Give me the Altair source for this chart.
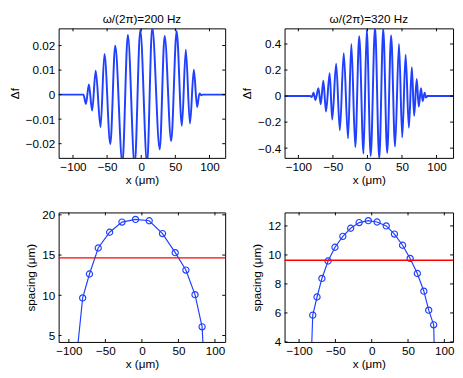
import altair as alt
import pandas as pd

FONT = "Liberation Sans"
BLUE = "#2040ff"

# ---------------- data ----------------
# Top-left: omega/(2pi)=200 Hz, extrema of the oscillation
tl_x = [-121, -84.7, -81.0, -76.7, -71.9, -66.7, -59.6, -53.9, -45.3, -38.1,
        -27.6, -19.6, -9.6, -1.4, 8.6, 16.1, 27.1, 34.3, 43.9, 51.9,
        59.6, 65.3, 71.4, 77.1, 81.9, 85.3, 87.9, 89.5, 123]
tl_y = [0, 0, -0.0038, 0.0041, -0.0065, 0.0097, -0.0133, 0.0166, -0.0202, 0.0199,
        -0.028, 0.0243, -0.029, 0.0263, -0.028, 0.0275, -0.0223, 0.0239, -0.0189, 0.0259,
        -0.0127, 0.0183, -0.0118, 0.0101, -0.0051, 0.0005, -0.0003, 0, 0]

# Top-right: omega/(2pi)=320 Hz
tr_x = [-120, -82.9, -80.7, -78.1, -75.3, -71.0, -67.6, -63.9, -60.0, -54.7,
        -51.0, -45.3, -40.0, -34.3, -28.1, -23.3, -17.6, -11.9, -5.7, -1.0,
        4.7, 11.0, 17.1, 22.9, 28.6, 34.3, 40.0, 45.7, 50.4, 55.3,
        60.0, 64.3, 67.6, 71.4, 74.3, 77.6, 80.0, 82.9, 84.7, 87.1, 124]
tr_y = [0, 0, -0.008, 0.026, -0.03, 0.061, -0.063, 0.118, -0.118, 0.175,
        -0.18, 0.248, -0.263, 0.33, -0.325, 0.40, -0.392, 0.459, -0.442, 0.509,
        -0.46, 0.53, -0.48, 0.516, -0.437, 0.466, -0.387, 0.40, -0.317, 0.317,
        -0.243, 0.222, -0.151, 0.131, -0.081, 0.061, -0.039, 0.026, -0.011, 0, 0]

# Bottom-left: spacing (circles) + line end points
bl_x = [-81.1, -71.8, -59.8, -44.2, -27.3, -8.7, 10.0, 28.2, 45.6, 60.2, 72.7, 82.4]
bl_y = [9.67, 12.65, 15.88, 17.84, 19.1, 19.43, 19.27, 17.67, 15.3, 13.14, 10.08, 6.08]
bl_end_x = [-89.8, 84.8]
bl_end_y = [2, 2]
bl_level = 14.65

# Bottom-right
br_x = [-81.2, -75.3, -68.6, -60.1, -50.6, -39.8, -29.0, -17.3, -4.7, 7.4,
        20.0, 31.3, 42.5, 52.9, 62.8, 71.8, 78.5, 85.3]
br_y = [5.85, 7.10, 8.38, 9.58, 10.53, 11.28, 11.84, 12.23, 12.36, 12.27,
        12.0, 11.44, 10.67, 9.76, 8.72, 7.50, 6.19, 5.18]
br_end_x = [-83.9, 87.0]
br_end_y = [2, 2]
br_level = 9.63

titles = ["ω/(2π)=200 Hz", "ω/(2π)=320 Hz"]
x_ticks = [-100, -50, 0, 50, 100]
tl_yticks = [-0.02, -0.01, 0, 0.01, 0.02]
tr_yticks = [-0.4, -0.2, 0, 0.2, 0.4]
bl_yticks = [5, 10, 15, 20]
br_yticks = [4, 6, 8, 10, 12]

H = 133
TL = 3  # inner tick length


def enc(xdom, ydom, xticks, yticks, ytitle, yexpr):
    X = alt.X("x:Q", scale=alt.Scale(domain=xdom, nice=False, zero=False),
              axis=alt.Axis(values=xticks, format="d", title="x (μm)", ticks=False,
                            domain=False, grid=False, labelPadding=4, titlePadding=2,
                            labelFlush=False, labelOverlap=False))
    Y = alt.Y("y:Q", scale=alt.Scale(domain=ydom, nice=False, zero=False),
              axis=alt.Axis(values=yticks, labelExpr=yexpr, title=ytitle, ticks=False,
                            domain=False, grid=False, labelPadding=4, titlePadding=4,
                            labelFlush=False, labelOverlap=False))
    return X, Y


def ticks_layers(X, Y, xticks, yticks, W):
    xt = pd.DataFrame({"x": xticks})
    yt = pd.DataFrame({"y": yticks})
    r = dict(color="black", strokeWidth=1)
    return [
        alt.Chart(xt).mark_rule(**r).encode(x=X, y=alt.value(0), y2=alt.value(TL)),
        alt.Chart(xt).mark_rule(**r).encode(x=X, y=alt.value(H), y2=alt.value(H - TL)),
        alt.Chart(yt).mark_rule(**r).encode(y=Y, x=alt.value(0), x2=alt.value(TL)),
        alt.Chart(yt).mark_rule(**r).encode(y=Y, x=alt.value(W), x2=alt.value(W - TL)),
    ]


def wave_panel(xs, ys, xdom, ydom, yticks, yexpr, title, W):
    X, Y = enc(xdom, ydom, x_ticks, yticks, "Δf", yexpr)
    df = pd.DataFrame({"x": xs, "y": ys})
    line = alt.Chart(df).mark_line(color=BLUE, strokeWidth=2, interpolate="monotone",
                                   clip=True).encode(x=X, y=Y, order="x:Q")
    return alt.layer(line, *ticks_layers(X, Y, x_ticks, yticks, W)).properties(
        width=W, height=H,
        title=alt.TitleParams(title, fontSize=12, fontWeight="normal", font=FONT,
                              offset=2, color="black"))


def spacing_panel(xs, ys, ex, ey, level, xdom, ydom, yticks, W):
    X, Y = enc(xdom, ydom, x_ticks, yticks, "spacing (μm)", "format(datum.value, 'd')")
    pts = pd.DataFrame({"x": xs, "y": ys})
    ldf = pd.DataFrame({"x": xs + ex, "y": ys + ey}).sort_values("x")
    line = alt.Chart(ldf).mark_line(color=BLUE, strokeWidth=1.2, clip=True).encode(
        x=X, y=Y, order="x:Q")
    circ = alt.Chart(pts).mark_point(shape="circle", filled=False, size=40,
                                     strokeWidth=1.2, color=BLUE, opacity=1).encode(x=X, y=Y)
    red = alt.Chart(pd.DataFrame({"y": [level]})).mark_rule(
        color="#ff0000", strokeWidth=1.5).encode(y=Y)
    return alt.layer(line, circ, red, *ticks_layers(X, Y, x_ticks, yticks, W)).properties(
        width=W, height=H)


tl = wave_panel(tl_x, tl_y, [-121, 123], [-0.0258, 0.027], tl_yticks,
                "datum.value == 0 ? '0' : format(datum.value, '.2f')", titles[0], 171)
tr = wave_panel(tr_x, tr_y, [-120, 124], [-0.475, 0.52], tr_yticks,
                "datum.value == 0 ? '0' : format(datum.value, '.1f')", titles[1], 173)
bl = spacing_panel(bl_x, bl_y, bl_end_x, bl_end_y, bl_level, [-114, 114], [4.2, 20.3],
                   bl_yticks, 171)
br = spacing_panel(br_x, br_y, br_end_x, br_end_y, br_level, [-120, 112], [4, 12.93],
                   br_yticks, 173)

chart = alt.concat(tl, tr, bl, br, columns=2, spacing={"row": 22, "column": 13}).configure_view(
    stroke="black", strokeWidth=1
).configure_axis(
    labelFont=FONT, titleFont=FONT, labelFontSize=12, titleFontSize=12,
    titleFontWeight="normal", labelColor="black", titleColor="black"
).properties(background="white", padding=0)

chart.save("out.html", embed_options={"renderer": "svg", "actions": False})
